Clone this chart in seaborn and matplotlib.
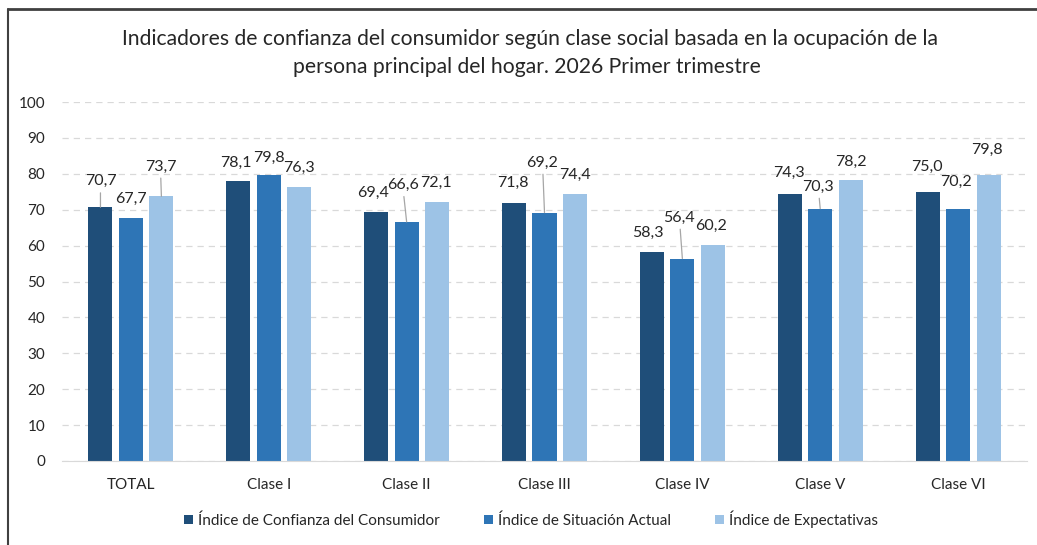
import numpy as np
import pandas as pd
import seaborn as sns
import matplotlib.pyplot as plt
from matplotlib.lines import Line2D

categorias = ["TOTAL", "Clase I", "Clase II", "Clase III", "Clase IV", "Clase V", "Clase VI"]
series = ["Índice de Confianza del Consumidor", "Índice de Situación Actual", "Índice de Expectativas"]
icc = [70.7, 78.1, 69.4, 71.8, 58.3, 74.3, 75.0]
isa = [67.7, 79.8, 66.6, 69.2, 56.4, 70.3, 70.2]
ie = [73.7, 76.3, 72.1, 74.4, 60.2, 78.2, 79.8]
colores = ["#1f4e79", "#2e75b6", "#9dc3e6"]

# desplazamiento de las etiquetas (pixeles) respecto a la parte alta de la barra
off_y = [[26, 18, 19, 20, 19, 21, 25],
         [19, 17, 37, 50, 41, 22, 27],
         [30, 19, 19, 19, 19, 18, 25]]
off_x = [[0, -2, -3, -1, -4, -1, -1],
         [0, 0, -4, -2, -3, -2, -2],
         [-1, 0, -1, 0, -2, 0, -2]]
guia = [[True, False, False, False, False, False, False],
        [False, False, True, True, True, True, False],
        [True, False, False, False, False, False, False]]

df = pd.DataFrame({
    "cat": categorias * 3,
    "serie": np.repeat(series, len(categorias)),
    "valor": icc + isa + ie,
})

sns.set_style("white")
plt.rcParams["font.family"] = ["Lato", "DejaVu Sans"]
txt = "#262626"

fig = plt.figure(figsize=(10.37, 5.45), dpi=100)
ax = fig.add_axes([62 / 1037, 84 / 545, 965 / 1037, 359 / 545])

sns.barplot(data=df, x="cat", y="valor", hue="serie", palette=colores,
            width=0.663, gap=0.21, ax=ax, saturation=1, edgecolor="none")

ax.set_ylim(0, 100)
ax.set_xlim(-0.5, len(categorias) - 0.5)
ax.set_yticks(range(0, 101, 10))
ax.yaxis.grid(True, color="#d9d9d9", linestyle=(0, (5, 4)), linewidth=0.9)
ax.set_axisbelow(True)
for s in ["top", "right", "left"]:
    ax.spines[s].set_visible(False)
ax.spines["bottom"].set_color("#d9d9d9")
ax.tick_params(axis="both", length=0, labelsize=11, labelcolor=txt)
ax.tick_params(axis="y", pad=12)
ax.tick_params(axis="x", pad=12)
ax.set_xlabel("")
ax.set_ylabel("")

for si, cont in enumerate(ax.containers):
    for ci, bar in enumerate(cont):
        x = bar.get_x() + bar.get_width() / 2
        h = bar.get_height()
        props = None
        if guia[si][ci]:
            props = dict(arrowstyle="-", color="#a6a6a6", lw=0.9, shrinkA=1, shrinkB=0)
        ax.annotate(f"{h:.1f}".replace(".", ","), xy=(x, h),
                    xytext=(off_x[si][ci], off_y[si][ci]), textcoords="offset pixels",
                    ha="center", va="center", fontsize=11.5, color=txt, arrowprops=props)

ax.legend(loc="center", bbox_to_anchor=(531 / 1037, 1 - 519 / 545),
          bbox_transform=fig.transFigure, ncol=3, frameon=False, fontsize=11,
          handlelength=0.6, handleheight=0.6, handletextpad=0.3, columnspacing=2.9,
          labelcolor=txt)

fig.text(530 / 1037, 1 - 39 / 545,
         "Indicadores de confianza del consumidor según clase social basada en la ocupación de la",
         ha="center", va="center", fontsize=15.2, color=txt)
fig.text(527 / 1037, 1 - 67 / 545, "persona principal del hogar. 2026 Primer trimestre",
         ha="center", va="center", fontsize=15.2, color=txt)

# marco
fig.add_artist(Line2D([8 / 1037, 8 / 1037], [0, 1 - 9 / 545], color="#404040", lw=1.5))
fig.add_artist(Line2D([8 / 1037, 1], [1 - 9 / 545, 1 - 9 / 545], color="#404040", lw=2))

fig.savefig("out.png", dpi=100)
